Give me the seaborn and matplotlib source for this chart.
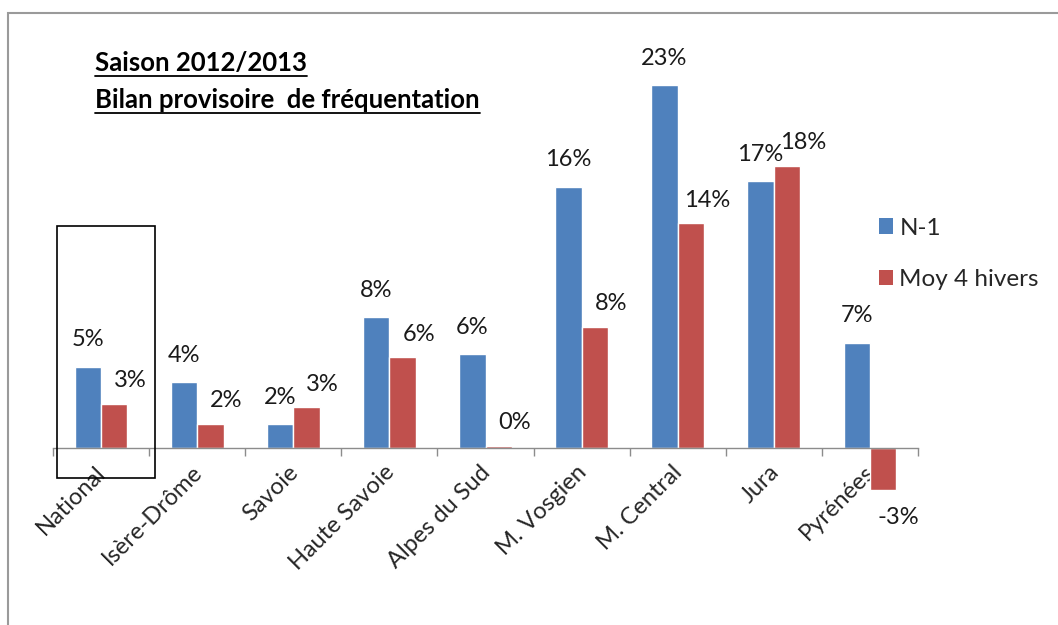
import numpy as np
import pandas as pd
import matplotlib

matplotlib.use("Agg")
import matplotlib.pyplot as plt
from matplotlib.patches import Rectangle
from matplotlib.lines import Line2D
import matplotlib.transforms as mtransforms
import seaborn as sns

# ----------------------------
# data

regions = ['National', 'Isère-Drôme', 'Savoie', 'Haute Savoie', 'Alpes du Sud',
           'M. Vosgien', 'M. Central', 'Jura', 'Pyrénées']
n1 = [5.13, 4.18, 1.54, 8.27, 5.94, 16.45, 22.86, 16.82, 6.64]
moy4 = [2.80, 1.55, 2.61, 5.75, 0.16, 7.66, 14.18, 17.77, -2.61]
n1_labels = ['5%', '4%', '2%', '8%', '6%', '16%', '23%', '17%', '7%']
moy4_labels = ['3%', '2%', '3%', '6%', '0%', '8%', '14%', '18%', '-3%']
series = ['N-1', 'Moy 4 hivers']
title_lines = ['Saison 2012/2013', 'Bilan provisoire  de fréquentation']

colors = ['#4F81BD', '#C0504D']

df = pd.DataFrame({
    'region': regions * 2,
    'value': n1 + moy4,
    'serie': [series[0]] * len(regions) + [series[1]] * len(regions),
})

sns.set_style('white')
plt.rcParams['font.family'] = ['Lato', 'DejaVu Sans']

W, H = 1058, 625
fig = plt.figure(figsize=(W / 100, H / 100), dpi=100)

# axes placed so that zero sits at y=448 px, ~15.9 px per %
ymin, ymax = -9, 26
px_per = 15.9
top_px = 448.5 - ymax * px_per
height_px = (ymax - ymin) * px_per
ax = fig.add_axes([53 / W, 1 - (top_px + height_px) / H, 865 / W, height_px / H])

sns.barplot(data=df, x='region', y='value', hue='serie', palette=colors,
            width=0.55, saturation=1, ax=ax, legend=False)
ax.set_xlim(-0.5, len(regions) - 0.5)
ax.set_ylim(ymin, ymax)
ax.set_xlabel('')
ax.set_ylabel('')

for s in ['top', 'right', 'left']:
    ax.spines[s].set_visible(False)
ax.spines['bottom'].set_position(('data', 0))
ax.spines['bottom'].set_color('#8c8c8c')
ax.spines['bottom'].set_linewidth(1.0)
ax.set_yticks([])

# ticks between categories, labels at centres
ax.set_xticks(np.arange(-0.5, len(regions), 1.0))
ax.set_xticklabels([])
ax.tick_params(axis='x', which='major', direction='out', length=6, color='#8c8c8c', width=1, bottom=True)
ax.set_xticks(np.arange(len(regions)), minor=True)
ax.set_xticklabels(regions, minor=True, rotation=45, ha='right', rotation_mode='anchor', fontsize=17)
ax.tick_params(axis='x', which='minor', length=0, pad=11)
shift = mtransforms.ScaledTranslation(-6 / 100, 2 / 100, fig.dpi_scale_trans)
for lab in ax.get_xticklabels(minor=True):
    lab.set_transform(lab.get_transform() + shift)

# value labels
bar_w = 0.55 / 2
for i in range(len(regions)):
    xb = i - bar_w / 2
    ax.annotate(n1_labels[i], (xb, n1[i]), xytext=(0, 27), textcoords='offset pixels',
                ha='center', va='center', fontsize=17, color='#1a1a1a')
    xr = i + bar_w / 2
    if moy4[i] >= 0:
        off = (16, 23)
    else:
        off = (15, -28)
    ax.annotate(moy4_labels[i], (xr, moy4[i]), xytext=off, textcoords='offset pixels',
                ha='center', va='center', fontsize=17, color='#1a1a1a')

# box around National
ax.add_patch(Rectangle((-0.46, -1.85), 1.02, 15.85, fill=False, edgecolor='black',
                       linewidth=1.2, clip_on=False, zorder=5))

# legend
handles = [Rectangle((0, 0), 1, 1, facecolor=c, edgecolor='none') for c in colors]
fig.legend(handles, series, loc='upper left', bbox_to_anchor=(869 / W, 1 - 208 / H),
           frameon=False, fontsize=17.5, handlelength=0.6, handleheight=0.6,
           handletextpad=0.25, labelspacing=1.25, borderaxespad=0)

# titles, underlined
fig.canvas.draw()
renderer = fig.canvas.get_renderer()
for k, line in enumerate(title_lines):
    t = fig.text(95 / W, 1 - (63 + 37 * k) / H, line, fontsize=18.5, fontweight='bold',
                 ha='left', va='center', color='black')
    bb = t.get_window_extent(renderer=renderer)
    yline = (bb.y0 - 1) / H
    fig.add_artist(Line2D([bb.x0 / W, bb.x1 / W], [yline, yline], color='black', linewidth=1.3))

# outer frame of the chart area
fig.add_artist(Rectangle((8 / W, -0.1), 1.2, 1 - 13 / H + 0.1, fill=False,
                         edgecolor='#9a9a9a', linewidth=1.5, transform=fig.transFigure))

fig.savefig('out.png', dpi=100, facecolor='white')
